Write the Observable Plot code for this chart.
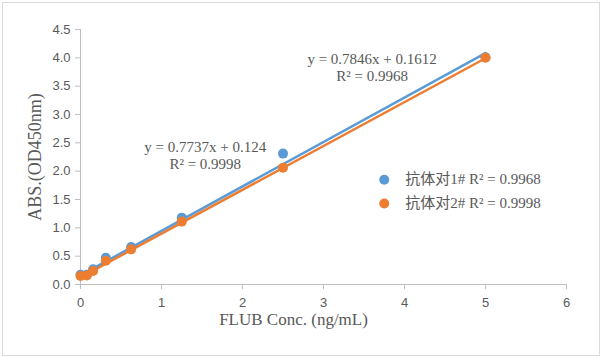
<!DOCTYPE html>
<html><head><meta charset="utf-8">
<script src="https://cdn.jsdelivr.net/npm/d3@7"></script>
<script src="https://cdn.jsdelivr.net/npm/@observablehq/plot@0.6"></script>
<style>
body{margin:0;background:#fff;}
#wrap{position:relative;width:602px;height:358px;}
#border{position:absolute;left:2px;top:2px;width:596px;height:352px;border:1px solid #d9d9d9;pointer-events:none;}
</style>
</head><body>
<div id="wrap"><div id="border"></div></div>
<script>
const conc = [0, 0.078, 0.156, 0.3125, 0.625, 1.25, 2.5, 5];
const abs1 = [0.17, 0.17, 0.27, 0.47, 0.66, 1.18, 2.31, 4.01];
const abs2 = [0.15, 0.16, 0.24, 0.42, 0.62, 1.11, 2.06, 4.00];
const seriesNames = ["抗体对1# R² = 0.9968", "抗体对2# R² = 0.9998"];
const slopes = [0.7846, 0.7737];
const intercepts = [0.1612, 0.124];
const r2 = ["0.9968", "0.9998"];
const colors = ["#5B9BD5", "#ED7D31"];
const xTicks = [0, 1, 2, 3, 4, 5, 6];
const yTicks = [0, 0.5, 1, 1.5, 2, 2.5, 3, 3.5, 4, 4.5];
const eqPos = [{x: 3.60, y: 3.82}, {x: 1.54, y: 2.27}];
const legendPos = {x: 3.75, y: [1.85, 1.43]};

const pts = [];
conc.forEach((c, i) => { pts.push({s: 0, x: c, y: abs1[i]}); });
conc.forEach((c, i) => { pts.push({s: 1, x: c, y: abs2[i]}); });
const xr = [0, d3.max(conc)];
const trend = [];
[0, 1].forEach(s => xr.forEach(x => trend.push({s, x, y: slopes[s] * x + intercepts[s]})));
const eqs = [0, 1].map(s => ({x: eqPos[s].x, y: eqPos[s].y,
  eq: `y = ${slopes[s]}x + ${intercepts[s]}`, r: `R² = ${r2[s]}`}));
const leg = [0, 1].map(s => ({s, x: legendPos.x, y: legendPos.y[s], t: seriesNames[s]}));

const serif = "'Liberation Serif','Times New Roman','Noto Sans CJK SC',serif";
const chart = Plot.plot({
  width: 602, height: 358,
  marginLeft: 80, marginRight: 36, marginTop: 29, marginBottom: 74,
  style: {fontFamily: "'Liberation Sans',Arial,sans-serif", fontSize: "13px", color: "#595959", background: "transparent"},
  x: {domain: [0, 6], label: null},
  y: {domain: [0, 4.5], label: null},
  marks: [
    Plot.ruleY([0], {stroke: "#bfbfbf"}),
    Plot.ruleX([0], {stroke: "#bfbfbf"}),
    Plot.axisX({ticks: xTicks, stroke: "#bfbfbf", color: "#595959", fontSize: 13, tickSize: 5, tickPadding: 8, tickFormat: d3.format("d")}),
    Plot.axisY({ticks: yTicks, stroke: "#bfbfbf", color: "#595959", fontSize: 13, tickSize: 5, tickPadding: 5, tickFormat: d3.format(".1f")}),
    Plot.line(trend, {x: "x", y: "y", z: "s", stroke: d => colors[d.s], strokeWidth: 2.5}),
    Plot.dot(pts, {x: "x", y: "y", r: 5, fill: d => colors[d.s], stroke: "none"}),
    Plot.text(eqs, {x: "x", y: "y", text: "eq", fontFamily: serif, fontSize: 15, fill: "#595959", dy: -8.5}),
    Plot.text(eqs, {x: "x", y: "y", text: "r", fontFamily: serif, fontSize: 15, fill: "#595959", dy: 8.5}),
    Plot.dot(leg, {x: "x", y: "y", r: 5, fill: d => colors[d.s]}),
    Plot.text(leg, {x: "x", y: "y", text: "t", textAnchor: "start", dx: 21, fontFamily: serif, fontSize: 15, fill: "#595959"}),
    Plot.text(["FLUB Conc. (ng/mL)"], {frameAnchor: "bottom", textAnchor: "middle", dx: -30, dy: 40, fontFamily: serif, fontSize: 17, fill: "#595959"}),
    Plot.text(["ABS.(OD450nm)"], {frameAnchor: "left", textAnchor: "middle", dx: -45, rotate: -90, fontFamily: serif, fontSize: 18, fill: "#595959"})
  ]
});
chart.style.position = "absolute";
chart.style.left = "0px";
chart.style.top = "0px";
document.getElementById("wrap").appendChild(chart);
</script>
</body></html>
